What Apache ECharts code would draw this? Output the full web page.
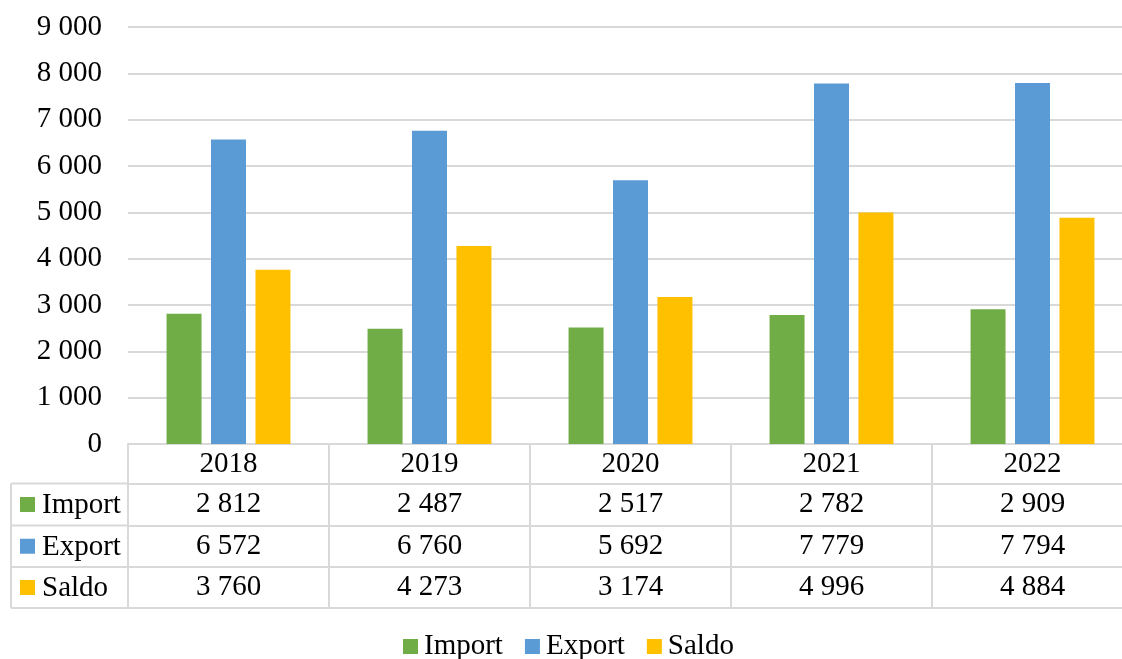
<!DOCTYPE html>
<html><head><meta charset="utf-8">
<script src="https://cdn.jsdelivr.net/npm/echarts@6/dist/echarts.min.js"></script>
<style>html,body{margin:0;padding:0;background:#fff;overflow:hidden}#c{width:1133px;height:659px}</style>
</head><body><div id="c"></div>
<script>
const years = ['2018','2019','2020','2021','2022'];
const seriesNames = ['Import','Export','Saldo'];
const importVals = [2812, 2487, 2517, 2782, 2909];
const exportVals = [6572, 6760, 5692, 7779, 7794];
const saldoVals  = [3760, 4273, 3174, 4996, 4884];
const yTicks = [0,1000,2000,3000,4000,5000,6000,7000,8000,9000];

const colors = ['#70AD47','#5B9BD5','#FFC000'];
const values = [importVals, exportVals, saldoVals];
const FONT = 'Liberation Serif';
const FS = 29;
const GRID = '#D9D9D9';
function fmt(v){ return String(v).replace(/\B(?=(\d{3})+(?!\d))/g,' '); }

const gridTop = 27, gridH = 417, gridLeft = 128, gridRight = 0;
const axisY = gridTop + gridH;
const rowLines = [axisY + 39.5, axisY + 81.5, axisY + 123, axisY + 164];

const chart = echarts.init(document.getElementById('c'), null, {renderer:'canvas'});

const xAxes = [{
  type:'category', data:years, position:'bottom', gridIndex:0,
  axisLine:{show:true, lineStyle:{color:GRID, width:2}},
  axisTick:{show:true, length:164, interval:0, lineStyle:{color:GRID, width:2}},
  axisLabel:{color:'#000', fontFamily:FONT, fontSize:FS, margin:6, interval:0}
}];
values.forEach((arr, i) => {
  xAxes.push({
    type:'category', data:years, position:'bottom', gridIndex:0,
    offset: rowLines[i] - axisY,
    axisLine:{show:true, lineStyle:{color:GRID, width:2}},
    axisTick:{show:false},
    axisLabel:{color:'#000', fontFamily:FONT, fontSize:FS, margin:6, interval:0,
      formatter:(v, idx) => fmt(arr[idx])}
  });
});
xAxes.push({
  type:'category', data:years, position:'bottom', gridIndex:0,
  offset: rowLines[3] - axisY,
  axisLine:{show:true, lineStyle:{color:GRID, width:2}},
  axisTick:{show:false}, axisLabel:{show:false}
});

const graphic = [];
rowLines.forEach(y => graphic.push({type:'line', shape:{x1:11,y1:y,x2:gridLeft,y2:y}, style:{stroke:GRID, lineWidth:2}, silent:true}));
graphic.push({type:'line', shape:{x1:11,y1:rowLines[0],x2:11,y2:rowLines[3]}, style:{stroke:GRID, lineWidth:2}, silent:true});
seriesNames.forEach((n, i) => {
  const cy = (rowLines[i] + rowLines[i+1]) / 2;
  graphic.push({type:'rect', shape:{x:20, y:cy-7.5, width:15, height:15}, style:{fill:colors[i]}, silent:true});
  graphic.push({type:'text', x:42, y:cy+1, style:{text:n, fill:'#000', font:FS+'px "'+FONT+'"', verticalAlign:'middle', align:'left'}, silent:true});
});

chart.setOption({
  animation:false,
  color:colors,
  grid:{left:gridLeft, top:gridTop, right:gridRight, height:gridH, containLabel:false},
  xAxis:xAxes,
  yAxis:{type:'value', min:yTicks[0], max:yTicks[yTicks.length-1], interval:1000,
    axisLine:{show:false}, axisTick:{show:false},
    splitLine:{lineStyle:{color:GRID, width:2}},
    axisLabel:{color:'#000', fontFamily:FONT, fontSize:FS, margin:26, formatter:v => fmt(v)}},
  legend:{data:seriesNames, left:398, top:627, icon:'rect', itemWidth:15, itemHeight:15, itemGap:22,
    textStyle:{color:'#000', fontFamily:FONT, fontSize:FS, padding:[0,0,0,1]}},
  series: seriesNames.map((n, i) => ({
    name:n, type:'bar', data:values[i], xAxisIndex:0,
    barWidth:35, barGap:'27%',
    itemStyle:{color:colors[i]}
  })),
  graphic:graphic
});
</script></body></html>
